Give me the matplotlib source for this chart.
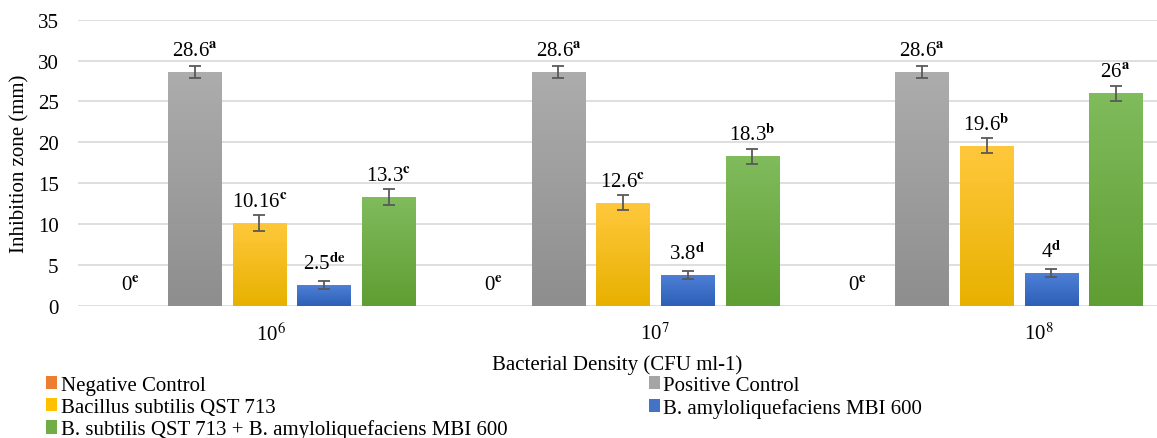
import numpy as np
import matplotlib
matplotlib.use('Agg')
import matplotlib.pyplot as plt
from matplotlib.colors import LinearSegmentedColormap
from matplotlib.patches import Patch

plt.rcParams['font.family'] = ['Liberation Serif', 'DejaVu Serif']
plt.rcParams['mathtext.fontset'] = 'stix'

# data
densities = ['10$^{6}$', '10$^{7}$', '10$^{8}$']
series = ['Negative Control', 'Positive Control', 'Bacillus subtilis QST 713',
          'B. amyloliquefaciens MBI 600',
          'B. subtilis QST 713 + B. amyloliquefaciens MBI 600']
neg_ctrl = [0, 0, 0]
pos_ctrl = [28.6, 28.6, 28.6]
bs_qst = [10.16, 12.6, 19.6]
ba_mbi = [2.5, 3.8, 4.0]
combo = [13.3, 18.3, 26.0]

neg_err = [0, 0, 0]
pos_err = [0.7, 0.7, 0.7]
bs_err = [1.0, 0.9, 0.9]
ba_err = [0.5, 0.5, 0.5]
combo_err = [0.95, 0.9, 0.9]

neg_let = ['e', 'e', 'e']
pos_let = ['a', 'a', 'a']
bs_let = ['c', 'c', 'b']
ba_let = ['de', 'd', 'd']
combo_let = ['c', 'b', 'a']

values = [neg_ctrl, pos_ctrl, bs_qst, ba_mbi, combo]
errors = [neg_err, pos_err, bs_err, ba_err, combo_err]
letters = [neg_let, pos_let, bs_let, ba_let, combo_let]

# gradient colours (top, bottom) per series
grads = [('#f08a44', '#d9651c'), ('#acacac', '#8e8e8e'), ('#ffc83c', '#e8b100'),
         ('#4f80d6', '#2e5fb8'), ('#80bb5c', '#5f9e33')]
solid = ['#ed7d31', '#a5a5a5', '#ffc000', '#4472c4', '#70ad47']

fig = plt.figure(figsize=(11.57, 4.39), dpi=100)
ax = fig.add_axes([78 / 1157, 0.3014, 1 - 78 / 1157, 0.6514])

x = np.arange(len(densities))
step = 0.1775
width = 0.146

for i in range(len(series)):
    pos = x + (i - 2) * step
    bars = ax.bar(pos, values[i], width, color=solid[i], zorder=2)
    cmap = LinearSegmentedColormap.from_list('g%d' % i, [grads[i][1], grads[i][0]])
    for b in bars:
        h = b.get_height()
        if h <= 0:
            continue
        x0 = b.get_x()
        im = ax.imshow(np.linspace(0, 1, 64).reshape(-1, 1), cmap=cmap, origin='lower',
                       extent=[x0, x0 + b.get_width(), 0, h], aspect='auto', zorder=2.1)
        im.set_clip_path(b)
    if any(e > 0 for e in errors[i]):
        ax.errorbar(pos, values[i], yerr=errors[i], fmt='none', ecolor='#595959',
                    elinewidth=1.3, capsize=4.5, capthick=1.3, zorder=3)
    for xp, v, let in zip(pos, values[i], letters[i]):
        txt = ('%g' % v) + r'$^{\mathbf{%s}}$' % let
        ax.annotate(txt, (xp, v), xytext=(0, 11.5), textcoords='offset points',
                    ha='center', va='baseline', fontsize=15)

ax.set_xlim(-0.4993, 2.469)
ax.set_ylim(0, 35)
ax.set_yticks(np.arange(0, 36, 5))
label_pos = [0.032, 1.088, 2.144]
ax.set_xticks(label_pos)
ax.set_xticklabels(densities)
ax.tick_params(axis='both', length=0, labelsize=15)
ax.tick_params(axis='y', pad=14)
ax.tick_params(axis='x', pad=12)
ax.grid(axis='y', color='#d9d9d9', lw=1.2, zorder=0)
ax.set_axisbelow(True)
for s in ax.spines.values():
    s.set_visible(False)

ax.set_ylabel('Inhibition zone (mm)', fontsize=15, labelpad=6)
ax.set_xlabel('Bacterial Density (CFU ml-1)', fontsize=15, labelpad=7)

handles = [Patch(facecolor=c) for c in solid]
order = [0, 2, 4, 1, 3]
fig.legend([handles[k] for k in order], [series[k] for k in order],
           loc='upper left', bbox_to_anchor=(46 / 1157, 1 - 377 / 439), ncol=2,
           frameon=False, fontsize=15, handlelength=0.55, handleheight=0.6,
           handletextpad=0.15, columnspacing=6.8, labelspacing=0.13,
           borderpad=0, borderaxespad=0)

plt.savefig('out.png', dpi=100)
